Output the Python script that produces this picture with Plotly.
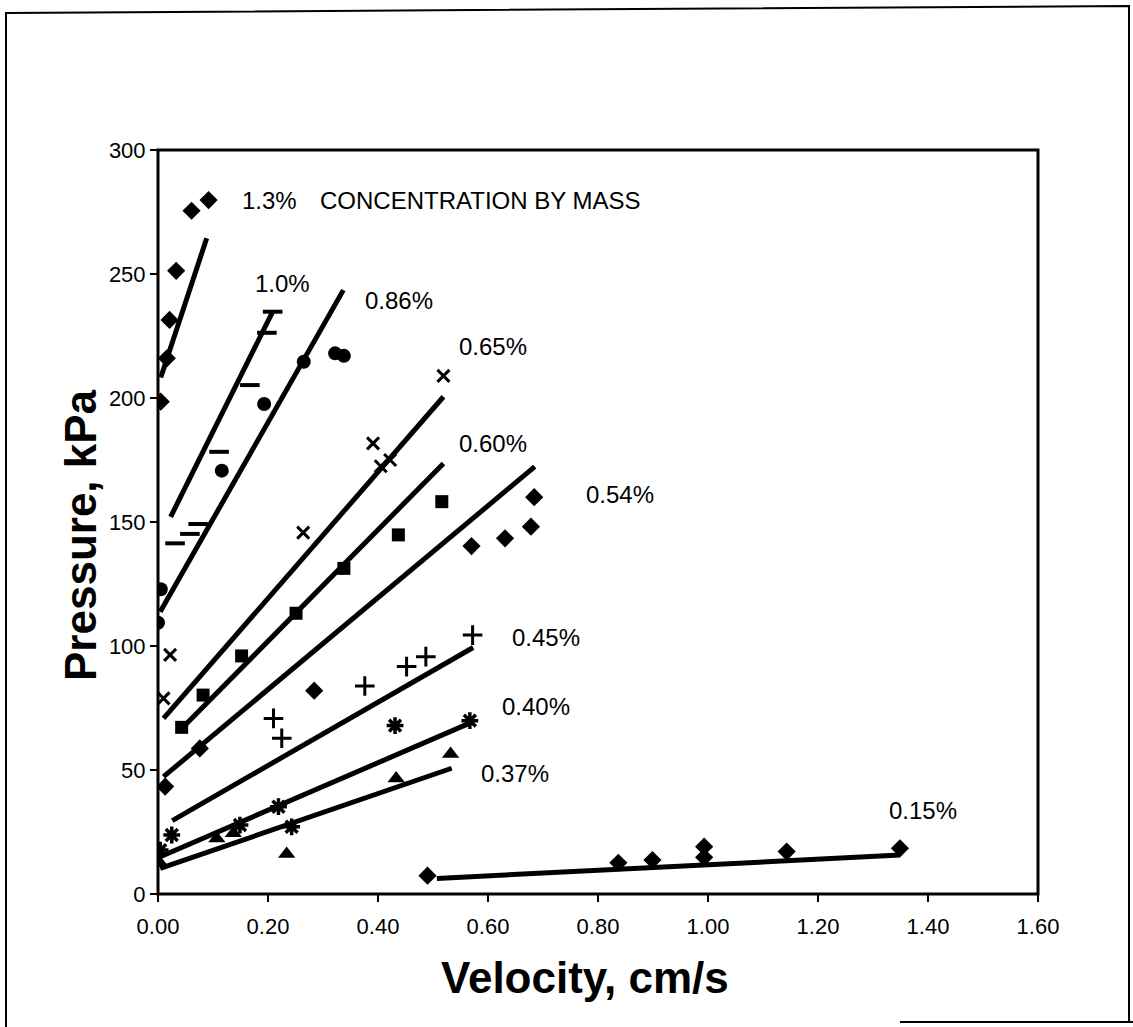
import plotly.graph_objects as go

# ---------------- data (velocity cm/s, pressure kPa) ----------------
c130_x = [0.005, 0.016, 0.021, 0.033, 0.061, 0.092]
c130_y = [198.5, 216, 231.5, 251.3, 275.5, 279.8]
c130_fit_x = [0.005, 0.0885]
c130_fit_y = [208.3, 264.4]

c100_x = [0.031, 0.058, 0.073, 0.111, 0.167, 0.198, 0.2085]
c100_y = [141.4, 145.2, 149.2, 178.3, 205.2, 226.3, 234.8]
c100_fit_x = [0.023, 0.2085]
c100_fit_y = [152.1, 234.8]

c086_x = [0.0, 0.005, 0.116, 0.193, 0.265, 0.322, 0.338]
c086_y = [109.4, 122.9, 170.7, 197.6, 214.6, 218, 217]
c086_fit_x = [0.004, 0.337]
c086_fit_y = [113.8, 243.5]

c065_x = [0.010, 0.022, 0.264, 0.391, 0.405, 0.422, 0.519]
c065_y = [78.9, 96.4, 145.7, 181.7, 172.5, 175, 208.9]
c065_fit_x = [0.010, 0.519]
c065_fit_y = [70.8, 200.5]

c060_x = [0.043, 0.082, 0.152, 0.251, 0.338, 0.437, 0.516]
c060_y = [67.2, 80.2, 96, 113.2, 131.3, 144.8, 158.2]
c060_fit_x = [0.040, 0.519]
c060_fit_y = [66.0, 173.6]

c054_x = [0.013, 0.076, 0.284, 0.570, 0.631, 0.678, 0.684]
c054_y = [43.3, 58.7, 82, 140.3, 143.4, 148.1, 160]
c054_fit_x = [0.010, 0.685]
c054_fit_y = [47.3, 172.3]

c045_x = [0.210, 0.225, 0.376, 0.452, 0.487, 0.572]
c045_y = [70.8, 62.8, 83.9, 91.7, 95.7, 104.4]
c045_fit_x = [0.026, 0.573]
c045_fit_y = [29.6, 99.4]

c040_x = [0.004, 0.025, 0.149, 0.219, 0.243, 0.431, 0.567]
c040_y = [17.7, 23.8, 27.8, 35.2, 27.1, 67.9, 69.9]
c040_fit_x = [0.004, 0.573]
c040_fit_y = [15.0, 69.5]

c037_x = [0.004, 0.107, 0.137, 0.234, 0.433, 0.532]
c037_y = [12.4, 22.4, 24.5, 16.1, 46.6, 56.5]
c037_fit_x = [0.004, 0.534]
c037_fit_y = [10.3, 50.7]

c015_x = [0.490, 0.837, 0.899, 0.993, 0.993, 1.143, 1.349]
c015_y = [7.4, 12.6, 13.7, 19.1, 14.8, 17.1, 18.4]
c015_fit_x = [0.507, 1.349]
c015_fit_y = [6.3, 15.7]

labels = ["1.3%", "1.0%", "0.86%", "0.65%", "0.60%", "0.54%", "0.45%", "0.40%", "0.37%", "0.15%"]
label_x = [0.149, 0.173, 0.373, 0.543, 0.543, 0.775, 0.640, 0.622, 0.584, 1.325]
label_y = [279.8, 246.2, 239.5, 220.7, 181.7, 160.9, 103.5, 75.8, 48.7, 33.6]
title_note = "CONCENTRATION BY MASS"
title_note_x = 0.291
title_note_y = 279.8

x_tick_vals = [0.0, 0.2, 0.4, 0.6, 0.8, 1.0, 1.2, 1.4, 1.6]
y_tick_vals = [0, 50, 100, 150, 200, 250, 300]

# ---------------- figure ----------------
series = [
    (c130_x, c130_y, c130_fit_x, c130_fit_y, dict(symbol="diamond", size=14, color="black")),
    (c100_x, c100_y, c100_fit_x, c100_fit_y, dict(symbol="line-ew", size=14, color="black",
                                                  line=dict(color="black", width=4))),
    (c086_x, c086_y, c086_fit_x, c086_fit_y, dict(symbol="circle", size=14, color="black")),
    (c065_x, c065_y, c065_fit_x, c065_fit_y, dict(symbol="x-thin", size=12, color="black",
                                                  line=dict(color="black", width=3))),
    (c060_x, c060_y, c060_fit_x, c060_fit_y, dict(symbol="square", size=13, color="black")),
    (c054_x, c054_y, c054_fit_x, c054_fit_y, dict(symbol="diamond", size=14, color="black")),
    (c045_x, c045_y, c045_fit_x, c045_fit_y, dict(symbol="cross-thin", size=14, color="black",
                                                  line=dict(color="black", width=3))),
    (c040_x, c040_y, c040_fit_x, c040_fit_y, dict(symbol="asterisk", size=14, color="black",
                                                  line=dict(color="black", width=3.5))),
    (c037_x, c037_y, c037_fit_x, c037_fit_y, dict(symbol="triangle-up", size=15, color="black")),
    (c015_x, c015_y, c015_fit_x, c015_fit_y, dict(symbol="diamond", size=14, color="black")),
]

fig = go.Figure()
for px, py, fx, fy, mk in series:
    fig.add_trace(go.Scatter(x=fx, y=fy, mode="lines",
                             line=dict(color="black", width=5), showlegend=False,
                             hoverinfo="skip"))
    fig.add_trace(go.Scatter(x=px, y=py, mode="markers", marker=mk, showlegend=False))

font = "Arial, Liberation Sans, sans-serif"

W, H = 1133, 1027
L, R, T, B = 158, 1133 - 1038, 150, 1027 - 894
pw, ph = W - L - R, H - T - B


def px2paper_x(p):
    return (p - L) / pw


def px2paper_y(p):
    return (H - B - p) / ph


annotations = []
for t, lx, ly in zip(labels, label_x, label_y):
    annotations.append(dict(x=lx, y=ly, xref="x", yref="y", text=t, showarrow=False,
                            xanchor="left", yanchor="middle",
                            font=dict(family=font, size=24, color="black")))
annotations.append(dict(x=title_note_x, y=title_note_y, xref="x", yref="y", text=title_note,
                        showarrow=False, xanchor="left", yanchor="middle",
                        font=dict(family=font, size=24, color="black")))
# axis titles
annotations.append(dict(x=px2paper_x(585), y=px2paper_y(978), xref="paper", yref="paper",
                        text="<b>Velocity, cm/s</b>", showarrow=False,
                        xanchor="center", yanchor="middle",
                        font=dict(family=font, size=44, color="black")))
annotations.append(dict(x=px2paper_x(80), y=px2paper_y(535), xref="paper", yref="paper",
                        text="<b>Pressure, kPa</b>", showarrow=False, textangle=-90,
                        xanchor="center", yanchor="middle",
                        font=dict(family=font, size=44, color="black")))

frame_path = "M {l0},{b0} L {l1},{t0} L {r0},{t1} L {r1},{b1}".format(
    l0=px2paper_x(6), b0=px2paper_y(1030),
    l1=px2paper_x(6), t0=px2paper_y(13),
    r0=px2paper_x(1129), t1=px2paper_y(6),
    r1=px2paper_x(1129), b1=px2paper_y(1022),
)
shapes = [
    # outer (scanned) frame
    dict(type="path", xref="paper", yref="paper", path=frame_path,
         line=dict(color="black", width=2), layer="below"),
    dict(type="line", xref="paper", yref="paper",
         x0=px2paper_x(900), x1=px2paper_x(1133), y0=px2paper_y(1022), y1=px2paper_y(1022),
         line=dict(color="black", width=2)),
    # plot border
    dict(type="rect", xref="paper", yref="paper", x0=0, x1=1, y0=0, y1=1,
         line=dict(color="black", width=3), fillcolor="rgba(0,0,0,0)"),
]

fig.update_layout(
    width=W, height=H,
    margin=dict(l=L, r=R, t=T, b=B, pad=0),
    paper_bgcolor="white", plot_bgcolor="white",
    annotations=annotations, shapes=shapes,
    font=dict(family=font, color="black"),
    xaxis=dict(range=[0, 1.6], tickvals=x_tick_vals, tickformat=".2f",
               ticks="outside", ticklen=7, tickwidth=2, tickcolor="black",
               ticklabelstandoff=6,
               showgrid=False, zeroline=False, showline=False,
               tickfont=dict(family=font, size=22, color="black")),
    yaxis=dict(range=[0, 300], tickvals=y_tick_vals,
               ticks="outside", ticklen=7, tickwidth=2, tickcolor="black",
               showgrid=False, zeroline=False, showline=False,
               tickfont=dict(family=font, size=22, color="black")),
)

fig.write_html("out.html")
